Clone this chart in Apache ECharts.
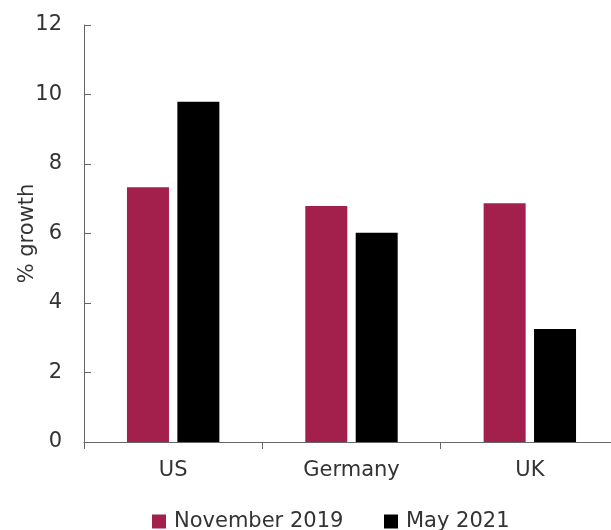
<!DOCTYPE html>
<html><head><meta charset="utf-8">
<script src="https://cdn.jsdelivr.net/npm/echarts@6/dist/echarts.min.js"></script>
<style>html,body{margin:0;padding:0;background:#fff}#c{width:611px;height:530px}</style>
</head><body><div id="c"></div>
<script>
var categories = ['US', 'Germany', 'UK'];
var nov2019 = [7.33, 6.79, 6.87];
var may2021 = [9.79, 6.02, 3.25];
var seriesNames = ['November 2019', 'May 2021'];
var font = 'DejaVu Sans, Liberation Sans, Arial, sans-serif';
function legendAt(name, left) {
  return {
    data: [name], top: 506, left: left, itemWidth: 14, itemHeight: 14,
    icon: 'rect', padding: 5,
    textStyle: {fontSize: 21, color: '#333', fontFamily: font, padding: [0,0,0,3]}
  };
}
var chart = echarts.init(document.getElementById('c'));
chart.setOption({
  animation: false,
  textStyle: {fontFamily: font},
  grid: {left: 84, top: 25, width: 535, height: 417, containLabel: false, outerBoundsMode: 'none'},
  legend: [legendAt(seriesNames[0], 147), legendAt(seriesNames[1], 379)],
  xAxis: {
    type: 'category', data: categories,
    axisLine: {lineStyle: {color: '#666', width: 1}},
    axisTick: {show: true, length: 7, lineStyle: {color: '#666'}},
    axisLabel: {fontSize: 21, color: '#333', margin: 18, fontFamily: font}
  },
  yAxis: {
    type: 'value', min: 0, max: 12, interval: 2,
    name: '% growth', nameLocation: 'middle', nameGap: 46, nameRotate: 90,
    nameMoveOverlap: false,
    nameTextStyle: {fontSize: 21, color: '#333', fontFamily: font},
    axisLine: {show: true, lineStyle: {color: '#666', width: 1}},
    axisTick: {show: true, inside: true, length: 7, lineStyle: {color: '#666'}},
    axisLabel: {fontSize: 21, color: '#333', margin: 22, fontFamily: font},
    splitLine: {show: false}
  },
  series: [
    {name: seriesNames[0], type: 'bar', data: nov2019, barWidth: 42, barGap: '20%',
     itemStyle: {color: '#A4204C'}},
    {name: seriesNames[1], type: 'bar', data: may2021, barWidth: 42, barGap: '20%',
     itemStyle: {color: '#000000'}}
  ]
});
</script></body></html>
